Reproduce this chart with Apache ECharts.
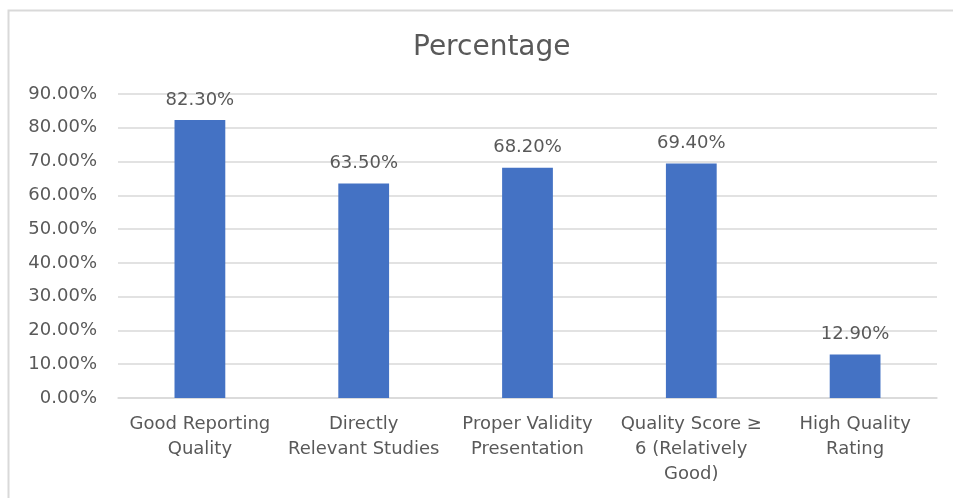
<!DOCTYPE html>
<html><head><meta charset="utf-8">
<script src="https://cdn.jsdelivr.net/npm/echarts@6/dist/echarts.min.js"></script>
<style>html,body{margin:0;padding:0;background:#fff}#c{width:953px;height:498px}</style>
</head><body><div id="c"></div>
<script>
const categories = ["Good Reporting\nQuality", "Directly\nRelevant Studies", "Proper Validity\nPresentation", "Quality Score ≥\n6 (Relatively\nGood)", "High Quality\nRating"];
const values = [82.3, 63.5, 68.2, 69.4, 12.9];
const titleText = "Percentage";
const font = "DejaVu Sans";
const chart = echarts.init(document.getElementById('c'));
chart.setOption({
  animation: false,
  graphic: [{type:'rect', shape:{x:8.5,y:10.5,width:960,height:500}, style:{fill:null, stroke:'#d9d9d9', lineWidth:2}, silent:true}],
  title: {text: titleText, left: 408, top: 29, textStyle:{fontFamily:font, fontSize:28, fontWeight:'normal', color:'#595959'}},
  grid: {left:118, right:16, top:94, bottom:100, containLabel:false},
  xAxis: {type:'category', data: categories,
    axisLine:{lineStyle:{color:'#d9d9d9', width:1.5}}, axisTick:{show:false},
    axisLabel:{fontFamily:font, fontSize:18, color:'#595959', lineHeight:25, margin:14, interval:0}},
  yAxis: {type:'value', min:0, max:90, interval:10,
    axisLine:{show:false}, axisTick:{show:false},
    splitLine:{lineStyle:{color:'#d9d9d9', width:1.5}},
    axisLabel:{fontFamily:font, fontSize:18, color:'#595959', margin:21, formatter: v => v.toFixed(2)+'%'}},
  series: [{type:'bar', data: values, barWidth:'31%', itemStyle:{color:'#4472C4'},
    label:{show:true, position:'top', distance:11, fontFamily:font, fontSize:18, color:'#595959', formatter: p => p.value.toFixed(2)+'%'}}]
});
</script></body></html>
